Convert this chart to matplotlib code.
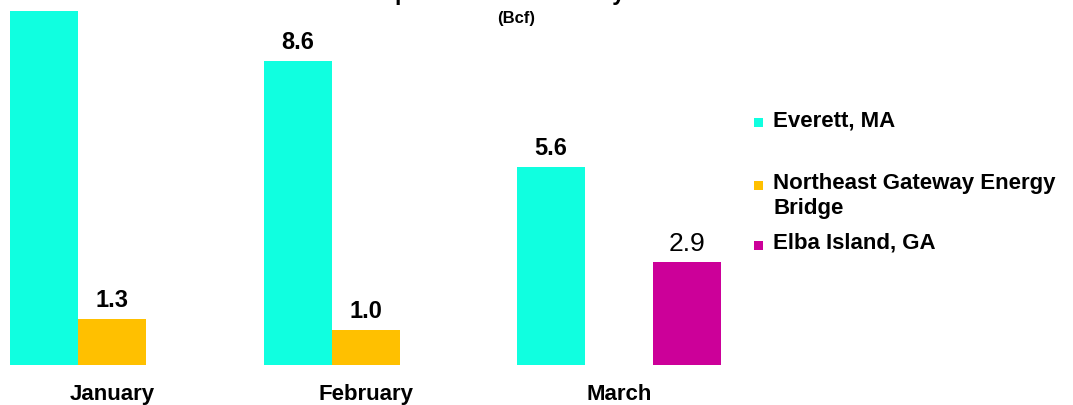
import numpy as np
import matplotlib
matplotlib.use('Agg')
import matplotlib.pyplot as plt
from matplotlib.patches import Rectangle

plt.rcParams['font.family'] = ['Liberation Sans', 'DejaVu Sans']

# LNG imports by terminal, Bcf
months = ['January', 'February', 'March']
everett = [10.0, 8.6, 5.6]
northeast = [1.3, 1.0, np.nan]
elba = [np.nan, np.nan, 2.9]

series_names = ['Everett, MA', 'Northeast Gateway Energy\nBridge', 'Elba Island, GA']
colors = ['#10FFE0', '#FFC000', '#CC0099']

W, H = 1073, 406
fig = plt.figure(figsize=(W / 100, H / 100), dpi=100)
ax = fig.add_axes([0, 40 / H, 740 / W, 1 - 40 / H])

x = np.arange(len(months))
w = 0.268
for i, (vals, col) in enumerate(zip([everett, northeast, elba], colors)):
    xs = x + (i - 1) * w
    ax.bar(xs, vals, width=w, color=col, linewidth=0)
    for xi, v in zip(xs, vals):
        if np.isnan(v):
            continue
        # the Elba label is set in a larger, regular face in the original
        if i == 2:
            kw = dict(fontsize=19, fontweight='normal')
        else:
            kw = dict(fontsize=17, fontweight='bold')
        ax.annotate(f'{v:.1f}', (xi, v), xytext=(0, 9), textcoords='offset points',
                    ha='center', va='baseline', annotation_clip=False, **kw)

ax.set_xlim(-0.442, 2.477)
ax.set_ylim(0, 10.34)
ax.set_xticks(x)
ax.set_xticklabels(months, fontsize=16, fontweight='bold')
ax.tick_params(axis='x', length=0, pad=13)
ax.set_yticks([])
for s in ax.spines.values():
    s.set_visible(False)

# title (mostly cropped off the top in the reference) and unit
fig.text(519 / W, 1.0, 'LNG Imports into the U.S. by Terminal', ha='center', va='baseline',
         fontsize=16.5, fontweight='bold')
fig.text(516 / W, 1 - 19 / H, '(Bcf)', ha='center', va='center', fontsize=12, fontweight='bold')

# legend on the right; marker sits on the first line of each entry
first_baselines = [129, 192, 252]
for name, col, b in zip(series_names, colors, first_baselines):
    fig.add_artist(Rectangle((754 / W, 1 - (b - 1) / H), 9 / W, 9 / H,
                             transform=fig.transFigure, color=col, linewidth=0))
    fig.text(773 / W, 1 - (b - 19) / H, name, ha='left', va='top', fontsize=16,
             fontweight='bold', linespacing=1.25)

fig.savefig('out.png', dpi=100)
